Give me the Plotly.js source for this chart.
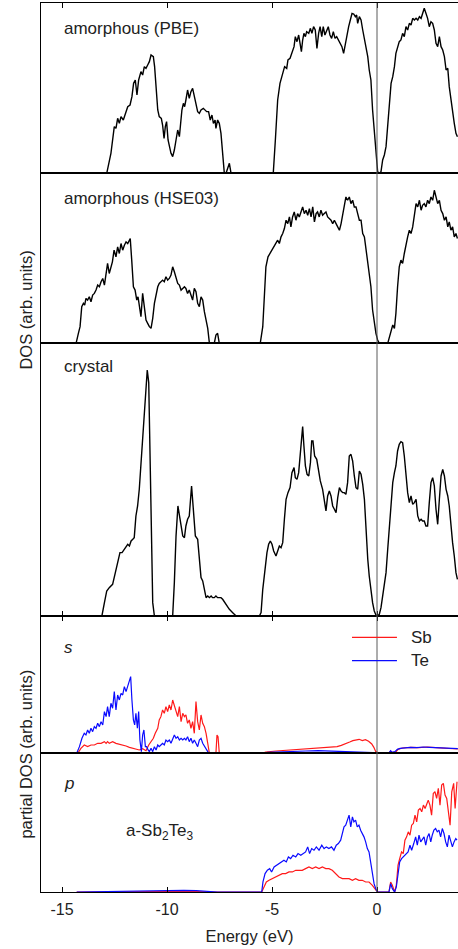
<!DOCTYPE html>
<html>
<head>
<meta charset="utf-8">
<script src="https://cdn.plot.ly/plotly-3.0.1.min.js"></script>
<style>
  html, body { margin: 0; padding: 0; background: #fff; }
  #chart { width: 458px; height: 949px; }
</style>
</head>
<body>
<div id="chart"></div>
<script>
// Density of states of a-Sb2Te3 / crystalline Sb2Te3, energies in eV relative to the Fermi level.
// Each series is a list of [energy, DOS] pairs (arbitrary units).

const tickVals = [-15, -10, -5, 0];
const tickText = ['-15', '-10', '-5', '0'];

const panelLabels = ['amorphous (PBE)', 'amorphous (HSE03)', 'crystal', 's', 'p'];
const speciesNames = ['Sb', 'Te'];

// total DOS, amorphous, PBE functional
const dosPBE = [
  [-16,0],[-12.87,0],[-12.67,60],[-12.56,130],[-12.51,140],[-12.43,135],[-12.35,165],[-12.27,150],[-12.19,170],
  [-12.08,160],[-11.98,180],[-11.87,200],[-11.76,205],[-11.67,230],[-11.59,270],[-11.51,280],[-11.43,235],
  [-11.35,280],[-11.24,305],[-11.16,295],[-11.08,320],[-11.00,315],[-10.92,325],[-10.84,335],[-10.76,355],
  [-10.65,350],[-10.59,320],[-10.52,250],[-10.44,190],[-10.37,170],[-10.27,165],[-10.21,145],[-10.14,105],
  [-10.08,140],[-10.02,155],[-9.95,100],[-9.89,80],[-9.81,60],[-9.73,50],[-9.65,70],[-9.57,100],[-9.49,130],
  [-9.41,110],[-9.37,140],[-9.29,190],[-9.22,210],[-9.16,200],[-9.10,220],[-9.02,250],[-8.94,225],[-8.86,245],
  [-8.78,255],[-8.70,230],[-8.62,215],[-8.54,185],[-8.46,180],[-8.38,190],[-8.27,195],[-8.17,190],[-8.11,185],
  [-8.02,185],[-7.94,160],[-7.86,175],[-7.79,150],[-7.71,160],[-7.67,135],[-7.59,160],[-7.51,150],[-7.43,120],
  [-7.35,60],[-7.27,0],[-7.19,0],[-7.10,20],[-7.03,30],[-6.95,0],[-4.94,0],
  [-4.84,100],[-4.73,220],[-4.62,270],[-4.49,305],[-4.40,320],[-4.30,315],[-4.24,340],[-4.14,345],[-4.05,360],
  [-3.95,380],[-3.89,410],[-3.81,395],[-3.73,415],[-3.67,385],[-3.60,365],[-3.54,400],[-3.48,420],[-3.41,410],
  [-3.35,425],[-3.25,420],[-3.17,435],[-3.10,420],[-3.02,440],[-2.94,430],[-2.86,375],[-2.78,420],[-2.71,440],
  [-2.63,410],[-2.56,440],[-2.48,415],[-2.40,430],[-2.32,440],[-2.24,415],[-2.16,405],[-2.08,425],[-2.00,405],
  [-1.92,410],[-1.84,400],[-1.76,390],[-1.67,380],[-1.59,360],[-1.51,390],[-1.43,420],[-1.35,440],[-1.27,460],
  [-1.19,480],[-1.11,478],[-1.03,470],[-0.97,475],[-0.92,450],[-0.84,470],[-0.76,460],[-0.68,430],[-0.60,400],
  [-0.52,380],[-0.44,350],[-0.37,310],[-0.29,280],[-0.21,190],[-0.13,120],[-0.05,50],[0.03,5],[0.11,0],
  [0.19,5],[0.27,40],[0.35,55],[0.43,80],[0.51,140],[0.59,220],[0.67,270],[0.75,290],[0.83,320],[0.90,360],
  [0.98,380],[1.06,395],[1.14,400],[1.22,420],[1.30,410],[1.38,440],[1.46,430],[1.54,450],[1.62,445],
  [1.70,465],[1.78,460],[1.86,465],[1.94,460],[2.02,470],[2.10,465],[2.17,480],[2.25,495],[2.33,480],
  [2.41,465],[2.49,440],[2.57,455],[2.65,450],[2.73,430],[2.81,390],[2.89,380],[2.97,410],[3.05,380],
  [3.13,370],[3.21,350],[3.29,310],[3.37,315],[3.44,260],[3.52,220],[3.60,180],[3.68,150],[3.76,120],[3.83,110]
];

// total DOS, amorphous, HSE03 hybrid functional
const dosHSE = [
  [-16,0],[-14.33,0],[-14.22,30],[-14.14,50],[-14.06,110],[-13.98,120],[-13.92,115],[-13.86,135],[-13.78,130],
  [-13.70,140],[-13.62,125],[-13.54,145],[-13.46,150],[-13.38,160],[-13.30,175],[-13.22,170],[-13.14,185],
  [-13.06,195],[-12.98,175],[-12.90,220],[-12.83,240],[-12.75,210],[-12.67,230],[-12.60,245],[-12.52,280],
  [-12.43,260],[-12.35,290],[-12.27,270],[-12.19,300],[-12.11,280],[-12.03,295],[-11.95,305],[-11.87,300],
  [-11.79,310],[-11.75,315],[-11.68,250],[-11.60,170],[-11.52,160],[-11.44,130],[-11.38,140],[-11.32,110],
  [-11.24,80],[-11.16,150],[-11.08,110],[-11.00,70],[-10.92,60],[-10.84,50],[-10.76,45],[-10.68,75],
  [-10.60,120],[-10.52,145],[-10.44,170],[-10.37,180],[-10.29,185],[-10.21,190],[-10.13,185],[-10.05,200],
  [-9.97,190],[-9.89,195],[-9.81,205],[-9.73,230],[-9.65,215],[-9.57,200],[-9.49,180],[-9.41,175],[-9.33,160],
  [-9.25,165],[-9.17,170],[-9.10,165],[-9.02,150],[-8.94,160],[-8.86,145],[-8.78,130],[-8.70,165],[-8.62,155],
  [-8.54,120],[-8.46,110],[-8.38,140],[-8.30,130],[-8.22,95],[-8.14,70],[-8.06,45],[-7.98,0],[-7.75,0],
  [-7.67,25],[-7.59,30],[-7.51,0],[-5.56,0],
  [-5.44,50],[-5.37,150],[-5.29,230],[-5.19,260],[-5.10,270],[-5.00,280],[-4.89,290],[-4.81,300],[-4.73,310],
  [-4.65,300],[-4.57,320],[-4.49,330],[-4.41,345],[-4.33,370],[-4.25,360],[-4.17,380],[-4.10,350],[-4.02,380],
  [-3.94,395],[-3.86,370],[-3.78,390],[-3.70,380],[-3.62,395],[-3.54,410],[-3.46,390],[-3.38,400],[-3.30,385],
  [-3.22,405],[-3.14,380],[-3.06,410],[-2.98,365],[-2.90,390],[-2.83,395],[-2.75,380],[-2.67,400],[-2.59,385],
  [-2.51,390],[-2.43,395],[-2.35,380],[-2.27,375],[-2.19,370],[-2.11,360],[-2.03,370],[-1.95,360],[-1.87,350],
  [-1.79,340],[-1.71,360],[-1.63,390],[-1.56,420],[-1.48,440],[-1.40,430],[-1.32,440],[-1.24,420],[-1.16,430],
  [-1.08,410],[-1.00,410],[-0.92,390],[-0.84,370],[-0.76,370],[-0.68,330],[-0.60,320],[-0.52,280],[-0.44,250],
  [-0.37,210],[-0.29,170],[-0.21,100],[-0.13,60],[-0.05,30],[0.03,10],[0.11,0],[0.51,0],[0.59,20],[0.67,40],
  [0.75,55],[0.83,45],[0.90,90],[0.98,170],[1.06,230],[1.14,250],[1.22,240],[1.30,270],[1.38,300],[1.46,320],
  [1.54,340],[1.62,330],[1.70,350],[1.78,380],[1.86,420],[1.94,410],[2.02,430],[2.10,400],[2.17,415],
  [2.25,420],[2.33,410],[2.41,430],[2.49,420],[2.57,440],[2.65,430],[2.73,460],[2.81,440],[2.89,420],
  [2.97,430],[3.05,400],[3.13,390],[3.21,370],[3.29,380],[3.37,350],[3.44,365],[3.52,340],[3.60,350],
  [3.68,320],[3.76,330],[3.83,315]
];

// total DOS, crystalline phase
const dosCrystal = [
  [-16,0],[-13.10,0],[-12.98,40],[-12.87,75],[-12.75,85],[-12.59,95],[-12.46,130],[-12.35,160],[-12.24,190],
  [-12.14,190],[-12.03,200],[-11.95,205],[-11.87,215],[-11.79,210],[-11.71,225],[-11.63,230],[-11.56,235],
  [-11.48,300],[-11.40,330],[-11.32,380],[-11.24,460],[-11.16,520],[-11.08,590],[-11.00,700],[-10.94,738],
  [-10.87,700],[-10.81,520],[-10.75,250],[-10.68,40],[-10.60,0],[-9.73,0],[-9.65,100],[-9.57,240],[-9.48,330],
  [-9.38,290],[-9.25,240],[-9.17,235],[-9.10,270],[-9.02,290],[-8.94,300],[-8.83,390],[-8.75,320],[-8.65,240],
  [-8.54,230],[-8.46,160],[-8.38,115],[-8.30,105],[-8.22,80],[-8.14,55],[-8.06,60],[-7.98,55],[-7.90,60],
  [-7.83,55],[-7.75,55],[-7.67,60],[-7.59,55],[-7.51,55],[-7.43,55],[-7.35,50],[-7.19,35],[-7.03,20],
  [-6.87,10],[-6.71,0],[-5.60,0],[-5.52,10],[-5.44,80],[-5.33,150],[-5.24,190],[-5.16,215],[-5.08,225],
  [-5.00,215],[-4.92,195],[-4.81,180],[-4.73,195],[-4.65,210],[-4.57,205],[-4.49,220],[-4.41,290],[-4.33,350],
  [-4.24,370],[-4.14,385],[-4.05,430],[-3.95,445],[-3.89,415],[-3.81,410],[-3.73,430],[-3.67,480],[-3.60,520],
  [-3.54,568],[-3.48,510],[-3.41,450],[-3.33,425],[-3.25,420],[-3.17,460],[-3.11,525],[-3.05,525],[-2.97,480],
  [-2.87,470],[-2.78,430],[-2.70,405],[-2.59,380],[-2.51,345],[-2.43,315],[-2.35,360],[-2.27,375],[-2.19,360],
  [-2.11,330],[-2.03,320],[-1.95,310],[-1.87,355],[-1.79,385],[-1.71,375],[-1.63,370],[-1.56,370],[-1.48,365],
  [-1.40,400],[-1.32,480],[-1.24,485],[-1.16,465],[-1.08,420],[-1.00,385],[-0.92,380],[-0.84,435],[-0.76,425],
  [-0.68,395],[-0.60,350],[-0.52,250],[-0.44,170],[-0.37,120],[-0.29,70],[-0.21,40],[-0.13,15],[-0.05,3],
  [0.03,0],[0.11,5],[0.19,25],[0.27,60],[0.35,90],[0.43,130],[0.51,200],[0.59,270],[0.67,350],[0.75,400],
  [0.83,430],[0.90,450],[0.98,495],[1.06,515],[1.14,523],[1.22,520],[1.30,480],[1.38,420],[1.46,370],
  [1.54,340],[1.62,360],[1.70,335],[1.78,340],[1.86,350],[1.94,300],[2.02,285],[2.10,290],[2.17,285],
  [2.25,285],[2.33,270],[2.41,270],[2.49,340],[2.57,400],[2.65,415],[2.73,390],[2.81,320],[2.89,275],
  [2.97,350],[3.05,420],[3.13,440],[3.21,420],[3.29,380],[3.37,360],[3.44,330],[3.52,260],[3.60,220],
  [3.68,180],[3.76,130],[3.83,110]
];

// s-projected DOS of Sb
const sSb = [
  [-14.30,0],[-14.25,0],[-14.10,15],[-13.94,25],[-13.78,20],[-13.62,25],[-13.46,25],[-13.30,30],[-13.14,30],
  [-12.98,35],[-12.90,30],[-12.83,35],[-12.75,30],[-12.59,35],[-12.43,30],[-12.27,28],[-12.11,25],[-11.95,22],
  [-11.79,18],[-11.62,15],[-11.46,12],[-11.32,10],[-11.16,14],[-11.00,8],[-10.87,25],[-10.76,35],[-10.65,45],
  [-10.56,60],[-10.44,75],[-10.37,100],[-10.29,110],[-10.21,130],[-10.13,120],[-10.05,140],[-9.97,125],
  [-9.89,145],[-9.81,130],[-9.73,160],[-9.65,145],[-9.57,130],[-9.49,110],[-9.41,140],[-9.33,95],[-9.25,120],
  [-9.17,110],[-9.10,115],[-9.02,90],[-8.94,100],[-8.86,75],[-8.78,95],[-8.70,60],[-8.62,155],[-8.54,95],
  [-8.46,70],[-8.38,115],[-8.30,90],[-8.22,80],[-8.14,60],[-8.06,30],[-7.98,0],[-7.67,0],[-7.62,55],
  [-7.57,50],[-7.51,0],[-5.46,0],[-5.30,4],[-4.80,7],[-4.20,10],[-3.80,11],[-3.40,13],[-3.00,15],[-2.60,17],
  [-2.20,18],[-1.90,20],[-1.70,24],[-1.50,28],[-1.30,34],[-1.15,38],[-1.00,40],[-0.85,42],[-0.70,38],
  [-0.55,41],[-0.40,36],[-0.25,28],[-0.15,18],[-0.06,5],[0.10,0],[0.55,0],[0.65,6],[0.75,2],[0.90,4],
  [1.00,12],[1.21,16],[1.60,18],[2.00,17],[2.40,19],[2.80,17],[3.20,16],[3.50,14],[3.85,13]
];

// s-projected DOS of Te
const sTe = [
  [-14.30,0],[-14.17,20],[-14.05,45],[-13.94,60],[-13.86,55],[-13.78,70],[-13.70,60],[-13.62,75],[-13.54,65],
  [-13.46,80],[-13.38,75],[-13.30,90],[-13.22,80],[-13.14,95],[-13.06,85],[-12.98,125],[-12.90,110],
  [-12.83,140],[-12.75,110],[-12.67,150],[-12.59,135],[-12.51,185],[-12.43,130],[-12.35,175],[-12.27,160],
  [-12.19,180],[-12.11,175],[-12.03,200],[-11.95,185],[-11.87,200],[-11.79,215],[-11.73,230],[-11.67,160],
  [-11.60,100],[-11.54,85],[-11.48,120],[-11.41,75],[-11.35,125],[-11.29,40],[-11.22,5],[-11.16,55],
  [-11.10,70],[-11.03,20],[-10.97,20],[-10.90,10],[-10.84,5],[-10.76,15],[-10.68,5],[-10.60,20],[-10.52,10],
  [-10.44,25],[-10.37,20],[-10.29,25],[-10.21,30],[-10.13,25],[-10.05,40],[-9.97,35],[-9.89,40],[-9.81,30],
  [-9.73,45],[-9.65,55],[-9.57,45],[-9.49,50],[-9.41,40],[-9.33,45],[-9.25,40],[-9.17,45],[-9.10,40],
  [-9.02,50],[-8.94,35],[-8.86,45],[-8.78,30],[-8.70,40],[-8.62,30],[-8.54,20],[-8.46,40],[-8.38,45],
  [-8.30,30],[-8.22,20],[-8.14,15],[-8.06,5],[-7.98,0],[-5.46,0],[-5.20,3],[-4.60,5],[-4.00,6],[-3.40,7],
  [-2.80,8],[-2.20,7],[-1.60,6],[-1.00,5],[-0.50,4],[-0.20,2],[-0.06,0],[0.55,0],[0.65,8],[0.72,3],[0.85,5],
  [0.97,12],[1.10,15],[1.30,17],[1.60,18],[1.90,17],[2.20,19],[2.50,18],[2.80,17],[3.10,16],[3.40,15],[3.85,14]
];

// p-projected DOS of Sb
const pSb = [
  [-14.30,0],[-12.50,1],[-10.50,2],[-9.00,2],[-7.60,0],[-5.49,0],[-5.38,15],[-5.27,30],[-5.14,35],[-4.98,40],
  [-4.83,45],[-4.67,50],[-4.51,55],[-4.35,55],[-4.19,60],[-4.03,60],[-3.87,65],[-3.71,65],[-3.56,65],
  [-3.40,70],[-3.24,75],[-3.08,70],[-2.92,75],[-2.76,70],[-2.60,75],[-2.44,70],[-2.29,70],[-2.13,65],
  [-1.97,55],[-1.81,45],[-1.65,40],[-1.49,40],[-1.33,40],[-1.17,35],[-1.02,40],[-0.86,35],[-0.70,35],
  [-0.54,30],[-0.38,30],[-0.22,20],[-0.10,8],[0.02,0],[0.57,0],[0.65,30],[0.73,20],[0.84,0],[0.92,20],
  [1.00,80],[1.08,100],[1.17,120],[1.25,115],[1.33,155],[1.41,165],[1.49,180],[1.57,170],[1.65,200],
  [1.73,205],[1.81,230],[1.89,210],[1.97,245],[2.05,250],[2.13,240],[2.21,260],[2.29,250],[2.38,265],
  [2.44,275],[2.52,260],[2.60,230],[2.68,295],[2.76,300],[2.84,280],[2.92,310],[3.00,260],[3.08,320],
  [3.16,325],[3.24,290],[3.32,280],[3.40,240],[3.48,200],[3.56,300],[3.65,325],[3.72,250],[3.81,330]
];

// p-projected DOS of Te
const pTe = [
  [-14.30,0],[-13.50,1],[-12.50,1],[-11.50,2],[-10.80,3],[-10.30,5],[-9.80,6],[-9.20,5],[-8.60,4],[-8.00,2],
  [-7.60,0],[-5.49,0],[-5.43,30],[-5.33,55],[-5.22,65],[-5.11,70],[-5.02,60],[-4.90,75],[-4.79,80],[-4.67,85],
  [-4.56,90],[-4.43,95],[-4.32,90],[-4.22,105],[-4.11,100],[-4.00,110],[-3.87,105],[-3.76,115],[-3.63,110],
  [-3.52,115],[-3.40,120],[-3.30,135],[-3.21,115],[-3.11,130],[-3.00,125],[-2.89,135],[-2.76,125],[-2.63,140],
  [-2.52,130],[-2.41,135],[-2.29,130],[-2.17,135],[-2.05,125],[-1.94,140],[-1.84,145],[-1.73,155],[-1.65,175],
  [-1.57,195],[-1.49,200],[-1.41,215],[-1.33,230],[-1.25,195],[-1.17,225],[-1.10,210],[-1.02,215],[-0.94,195],
  [-0.86,200],[-0.78,185],[-0.70,175],[-0.62,165],[-0.54,150],[-0.46,130],[-0.38,120],[-0.30,90],[-0.22,50],
  [-0.14,25],[-0.06,10],[0.02,0],[0.57,0],[0.65,25],[0.73,10],[0.84,0],[0.92,15],[1.00,60],[1.08,90],
  [1.17,100],[1.25,105],[1.37,110],[1.48,120],[1.57,140],[1.65,125],[1.75,145],[1.84,165],[1.92,140],
  [2.00,170],[2.08,150],[2.16,160],[2.24,165],[2.32,140],[2.40,165],[2.48,175],[2.56,150],[2.63,170],
  [2.71,185],[2.79,190],[2.87,180],[2.95,185],[3.03,165],[3.11,190],[3.19,175],[3.27,150],[3.35,135],
  [3.43,170],[3.51,150],[3.59,135],[3.67,150],[3.75,160],[3.81,155]
];

const RED = '#ff1a1a';
const BLUE = '#0a0aff';
const FONT = 'Liberation Sans, Arial, Helvetica, sans-serif';
const TEXT = '#222';

function line(series, axisIdx, color, width, name) {
  const sfx = axisIdx === 1 ? '' : String(axisIdx);
  return {
    type: 'scatter', mode: 'lines', name: name || '',
    x: series.map(p => p[0]), y: series.map(p => p[1]),
    xaxis: 'x' + sfx, yaxis: 'y' + sfx,
    line: { color: color, width: width, shape: 'linear' },
    hoverinfo: 'skip'
  };
}

const traces = [
  line(dosPBE, 1, '#000', 1.4),
  line(dosHSE, 2, '#000', 1.4),
  line(dosCrystal, 3, '#000', 1.4),
  line(sSb, 4, RED, 1.2, speciesNames[0]),
  line(sTe, 4, BLUE, 1.2, speciesNames[1]),
  line(pSb, 5, RED, 1.2, speciesNames[0]),
  line(pTe, 5, BLUE, 1.2, speciesNames[1])
];

function xAxis(anchor, side, withTicks, withLabels) {
  return {
    anchor: anchor, domain: [0, 1], range: [-16, 3.857], side: side,
    showline: true, mirror: true, linecolor: '#000', linewidth: 1,
    ticks: withTicks ? 'inside' : '', ticklen: 5, tickwidth: 1, tickcolor: '#000',
    tickmode: 'array', tickvals: tickVals, ticktext: tickText,
    showticklabels: withLabels, tickfont: { family: FONT, size: 16, color: TEXT },
    showgrid: false, zeroline: false, fixedrange: true
  };
}
function yAxis(anchor, domain, top) {
  return {
    anchor: anchor, domain: domain, range: [0, top],
    showline: true, linecolor: '#000', linewidth: 1,
    ticks: '', showticklabels: false, showgrid: false, zeroline: false, fixedrange: true
  };
}

const xa5 = xAxis('y5', 'bottom', true, true);
xa5.ticklabelstandoff = 3;
xa5.title = { text: 'Energy (eV)', font: { family: FONT, size: 16.5, color: TEXT }, standoff: 13 };

function label(text, axisIdx, x, y, italic) {
  const sfx = axisIdx === 1 ? '' : String(axisIdx);
  return {
    text: italic ? '<i>' + text + '</i>' : text,
    xref: 'x' + sfx, yref: 'y' + sfx, x: x, y: y,
    xanchor: 'left', yanchor: 'middle', showarrow: false,
    font: { family: FONT, size: 17, color: TEXT }
  };
}

const layout = {
  width: 458, height: 949,
  margin: { l: 41, r: 0, t: 3, b: 57 },
  paper_bgcolor: '#fff', plot_bgcolor: '#fff',
  showlegend: false,
  font: { family: FONT, size: 16, color: TEXT },
  xaxis: xAxis('y', 'top', true, false),
  xaxis2: xAxis('y2', 'top', false, false),
  xaxis3: xAxis('y3', 'bottom', true, false),
  xaxis4: xAxis('y4', 'top', true, false),
  xaxis5: xa5,
  yaxis: yAxis('x', [0.8084, 1], 511),
  yaxis2: yAxis('x2', [0.6172, 0.8084], 511),
  yaxis3: yAxis('x3', [0.3105, 0.6172], 818),
  yaxis4: yAxis('x4', [0.156, 0.3105], 412),
  yaxis5: yAxis('x5', [0, 0.156], 415),
  shapes: [
    // Fermi level
    { type: 'line', xref: 'x', yref: 'paper', x0: 0, x1: 0, y0: 0, y1: 1,
      line: { color: '#5a5a5a', width: 1 }, layer: 'above' },
    // legend samples
    { type: 'line', xref: 'x4', yref: 'y4', x0: -1.19, x1: 0.95, y0: 348, y1: 348,
      line: { color: RED, width: 1.3 }, layer: 'above' },
    { type: 'line', xref: 'x4', yref: 'y4', x0: -1.19, x1: 0.95, y0: 278, y1: 278,
      line: { color: BLUE, width: 1.3 }, layer: 'above' }
  ],
  annotations: [
    label(panelLabels[0], 1, -15, 436),
    label(panelLabels[1], 2, -15, 436),
    label(panelLabels[2], 3, -15, 747),
    label(panelLabels[3], 4, -15, 316, true),
    label(panelLabels[4], 5, -15, 325, true),
    label('a-Sb<sub>2</sub>Te<sub>3</sub>', 5, -12.05, 180),
    label(speciesNames[0], 4, 1.52, 348),
    label(speciesNames[1], 4, 1.52, 278),
    { text: 'DOS (arb. units)', xref: 'paper', yref: 'paper', x: -0.037, y: 0.6547,
      xanchor: 'center', yanchor: 'middle', textangle: -90, showarrow: false,
      font: { family: FONT, size: 16.5, color: TEXT } },
    { text: 'partial DOS (arb. units)', xref: 'paper', yref: 'paper', x: -0.037, y: 0.1552,
      xanchor: 'center', yanchor: 'middle', textangle: -90, showarrow: false,
      font: { family: FONT, size: 16.5, color: TEXT } }
  ]
};

Plotly.newPlot('chart', traces, layout, { displayModeBar: false, staticPlot: true });
</script>
</body>
</html>
